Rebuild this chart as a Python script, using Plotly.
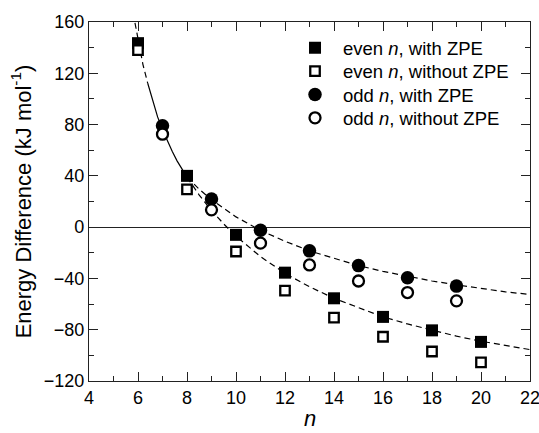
import plotly.graph_objects as go

# ---- data ----
even_n = [6, 8, 10, 12, 14, 16, 18, 20]
even_with_zpe = [143.5, 40, -6, -35.5, -55.5, -70, -80.5, -89.5]
even_without_zpe = [138, 29.5, -19, -49.5, -70.5, -85.5, -97, -105.5]

odd_n = [7, 9, 11, 13, 15, 17, 19]
odd_with_zpe = [79, 22, -2.5, -18.5, -30, -39.5, -46]
odd_without_zpe = [72.5, 13.5, -12.5, -29.5, -42, -51, -57.5]

# fitted curves
steep_n = [5.8, 6.0, 6.2, 6.4, 6.6, 6.8, 7.0, 7.2, 7.4, 7.6, 7.8, 8.0]
steep_y = [167, 146, 127, 112, 98, 86, 76, 67, 59, 51.5, 45, 39]

upper_n = [8.0, 8.5, 9, 9.5, 10, 11, 12, 13, 14, 15, 16, 17, 18, 19, 20, 21, 22]
upper_y = [39, 29.5, 21.5, 14.5, 8, -2.5, -11, -18.5, -24.5, -30, -34.5, -38.5, -42, -45, -48, -50.5, -52.5]

lower_n = [8.0, 8.5, 9, 9.5, 10, 11, 12, 13, 14, 15, 16, 17, 18, 19, 20, 21, 22]
lower_y = [39, 25, 13, 2.5, -7, -23, -36, -46.5, -55.5, -63, -70, -75.5, -80.5, -85, -89, -92.5, -95.5]

x_ticks = [4, 6, 8, 10, 12, 14, 16, 18, 20, 22]
y_ticks = [-120, -80, -40, 0, 40, 80, 120, 160]

series_names = ["even <i>n</i>, with ZPE", "even <i>n</i>, without ZPE",
                "odd <i>n</i>, with ZPE", "odd <i>n</i>, without ZPE"]
x_title = "<i>n</i>"
y_title = "Energy Difference (kJ mol<sup>-1</sup>)"

FONT = "Liberation Sans, Arial, sans-serif"
DASH = "6px,4px"

fig = go.Figure()

# curves
fig.add_trace(go.Scatter(x=steep_n[:4], y=steep_y[:4], mode="lines",
                         line=dict(color="black", width=1.2, dash=DASH),
                         showlegend=False, hoverinfo="skip"))
fig.add_trace(go.Scatter(x=steep_n[3:], y=steep_y[3:], mode="lines",
                         line=dict(color="black", width=1.2),
                         showlegend=False, hoverinfo="skip"))
fig.add_trace(go.Scatter(x=upper_n, y=upper_y, mode="lines",
                         line=dict(color="black", width=1.2, dash=DASH),
                         showlegend=False, hoverinfo="skip"))
fig.add_trace(go.Scatter(x=lower_n, y=lower_y, mode="lines",
                         line=dict(color="black", width=1.2, dash=DASH),
                         showlegend=False, hoverinfo="skip"))

# markers
fig.add_trace(go.Scatter(x=even_n, y=even_with_zpe, mode="markers",
                         name=series_names[0], legend="legend",
                         marker=dict(symbol="square", size=12, color="black",
                                     line=dict(width=0))))
fig.add_trace(go.Scatter(x=even_n, y=even_without_zpe, mode="markers",
                         name=series_names[1], legend="legend2",
                         marker=dict(symbol="square", size=9.5, color="white",
                                     line=dict(width=2.3, color="black"))))
fig.add_trace(go.Scatter(x=odd_n, y=odd_with_zpe, mode="markers",
                         name=series_names[2], legend="legend3",
                         marker=dict(symbol="circle", size=13.5, color="black",
                                     line=dict(width=0))))
fig.add_trace(go.Scatter(x=odd_n, y=odd_without_zpe, mode="markers",
                         name=series_names[3], legend="legend4",
                         marker=dict(symbol="circle", size=11, color="white",
                                     line=dict(width=2.3, color="black"))))

axis_common = dict(
    showline=True, linecolor="#222", linewidth=1.3, mirror="ticks",
    ticks="inside", ticklen=9, tickwidth=1.3, tickcolor="#222",
    showgrid=False, ticklabeloverflow="allow",
    tickfont=dict(family=FONT, size=18, color="black"),
)

fig.update_xaxes(range=[4, 22], tickvals=x_ticks, zeroline=False,
                 minor=dict(ticks="inside", ticklen=5, tickwidth=1.3,
                            tickcolor="#222", dtick=1, showgrid=False),
                 **axis_common)
fig.update_yaxes(range=[-120, 160], tickvals=y_ticks,
                 zeroline=True, zerolinecolor="#222", zerolinewidth=1.3,
                 minor=dict(ticks="inside", ticklen=5, tickwidth=1.3,
                            tickcolor="#222", dtick=20, showgrid=False),
                 title=dict(text=y_title,
                            font=dict(family=FONT, size=22, color="black"),
                            standoff=6),
                 **axis_common)

# x-axis title placed as an annotation
fig.add_annotation(text=x_title, xref="paper", yref="paper", x=0.5, y=-0.1058,
                   xanchor="center", yanchor="middle", showarrow=False,
                   font=dict(family=FONT, size=22, color="black"))

legend_common = dict(x=0.449, xanchor="left", yanchor="middle",
                     bgcolor="rgba(0,0,0,0)", borderwidth=0,
                     font=dict(family=FONT, size=18.5, color="black"),
                     itemwidth=46, itemsizing="trace")
row_y = [0.9267, 0.862, 0.7967, 0.7318]

fig.update_layout(
    width=539, height=433,
    margin=dict(l=89, r=9, t=22, b=52, autoexpand=False),
    plot_bgcolor="white", paper_bgcolor="white",
    font=dict(family=FONT, color="black"),
    legend=dict(y=row_y[0], **legend_common),
    legend2=dict(y=row_y[1], **legend_common),
    legend3=dict(y=row_y[2], **legend_common),
    legend4=dict(y=row_y[3], **legend_common),
)

fig.write_html("out.html")
